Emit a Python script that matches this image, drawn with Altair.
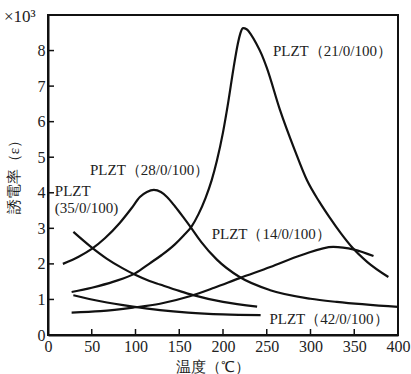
import altair as alt
import pandas as pd

# ---- data ----
names = ["21", "28", "35", "42", "14"]

x21 = [27, 50, 75, 100, 116, 130, 145, 155, 164, 172, 180, 187, 193, 200, 206, 212, 217, 220, 223, 227, 232, 238, 244, 250, 265, 282, 296, 310, 322, 335, 347, 365, 389]
y21 = [1.21, 1.33, 1.5, 1.74, 2.01, 2.25, 2.55, 2.8, 3.05, 3.4, 3.85, 4.35, 4.9, 5.7, 6.55, 7.5, 8.2, 8.5, 8.63, 8.6, 8.45, 8.2, 7.9, 7.52, 6.34, 5.2, 4.35, 3.75, 3.3, 2.85, 2.48, 2.05, 1.63]

x28 = [17, 35, 50, 65, 82, 95, 105, 113, 121, 129, 136, 145, 155, 164, 175, 193, 219, 254, 300, 330, 400]
y28 = [2.0, 2.2, 2.42, 2.72, 3.15, 3.55, 3.88, 4.02, 4.08, 4.02, 3.88, 3.62, 3.3, 3.0, 2.62, 2.12, 1.63, 1.26, 1.02, 0.93, 0.79]

x35 = [29, 48, 67, 85, 99, 116, 128, 150, 166, 200, 239]
y35 = [2.9, 2.5, 2.15, 1.88, 1.7, 1.52, 1.42, 1.24, 1.12, 0.93, 0.8]

x42 = [29, 60, 97, 128, 160, 200, 243]
y42 = [1.12, 0.95, 0.8, 0.7, 0.63, 0.58, 0.56]

x14 = [27, 60, 97, 128, 162, 190, 219, 254, 290, 326, 350, 372]
y14 = [0.63, 0.67, 0.77, 0.88, 1.09, 1.33, 1.6, 1.91, 2.25, 2.48, 2.4, 2.22]

label_text = ["PLZT（21/0/100）", "PLZT（28/0/100）", "PLZT", "(35/0/100)", "PLZT（14/0/100）", "PLZT（42/0/100）"]
label_x = [257, 48, 7.8, 7.8, 187, 253]
label_y = [7.98, 4.64, 4.05, 3.56, 2.83, 0.46]

x_ticks = [0, 50, 100, 150, 200, 250, 300, 350, 400]
y_ticks = [0, 1, 2, 3, 4, 5, 6, 7, 8]
x_inner_ticks = [50, 100, 150, 200, 250, 300, 350]
y_inner_ticks = [1, 2, 3, 4, 5, 6, 7, 8]

# ---- build tables ----
rows = []
for n, xs, ys in zip(names, [x21, x28, x35, x42, x14], [y21, y28, y35, y42, y14]):
    for xv, yv in zip(xs, ys):
        rows.append({"series": n, "x": xv, "y": yv})
df = pd.DataFrame(rows)
labels = pd.DataFrame({"t": label_text, "x": label_x, "y": label_y})

SERIF = "Liberation Serif"
W, H = 350, 320

xscale = alt.Scale(domain=[0, 400], nice=False, zero=False)
yscale = alt.Scale(domain=[0, 9], nice=False, zero=False)
xaxis = alt.Axis(values=x_ticks, title="温度（℃）", ticks=False, labelPadding=3, titleX=164, titleY=31,
                 titleBaseline="middle", titleAlign="center", grid=False, labelFlush=False)
yaxis = alt.Axis(values=y_ticks, title="誘電率（ε）", ticks=False, labelPadding=3, titleX=-35, titleY=158,
                 titleBaseline="middle", titleAlign="center", grid=False, labelFlush=False)

lines = alt.Chart(df).mark_line(color="#111", strokeWidth=2.2, interpolate="monotone").encode(
    x=alt.X("x:Q", scale=xscale, axis=xaxis),
    y=alt.Y("y:Q", scale=yscale, axis=yaxis),
    detail="series:N",
)

xt = alt.Chart(pd.DataFrame({"x": x_inner_ticks})).mark_rule(color="#111", strokeWidth=1.5).encode(
    x=alt.X("x:Q", scale=xscale, axis=xaxis), y=alt.value(H), y2=alt.value(H - 6))
yt = alt.Chart(pd.DataFrame({"y": y_inner_ticks})).mark_rule(color="#111", strokeWidth=1.5).encode(
    y=alt.Y("y:Q", scale=yscale, axis=yaxis), x=alt.value(0), x2=alt.value(6))

txt = alt.Chart(labels).mark_text(align="left", baseline="middle", font=SERIF, fontSize=15,
                                  color="#222").encode(
    x=alt.X("x:Q", scale=xscale, axis=xaxis), y=alt.Y("y:Q", scale=yscale, axis=yaxis), text="t:N")

unit = alt.Chart(pd.DataFrame({"t": ["×10³"]})).mark_text(align="left", baseline="middle", font=SERIF,
                                                           fontSize=17, color="#222").encode(
    x=alt.value(-44), y=alt.value(2), text="t:N")

chart = alt.layer(lines, xt, yt, txt, unit).properties(
    width=W, height=H,
    autosize=alt.AutoSizeParams(type="none"),
    padding={"left": 48, "top": 15, "right": 13, "bottom": 39},
).configure_view(stroke="#111", strokeWidth=2).configure_axis(
    domainColor="#111", domainWidth=2, labelFont=SERIF, labelFontSize=16, labelColor="#222",
    titleFont=SERIF, titleFontSize=15, titleColor="#222", titleFontWeight="normal",
)

chart.save("out.html", embed_options={"renderer": "svg", "actions": False})
